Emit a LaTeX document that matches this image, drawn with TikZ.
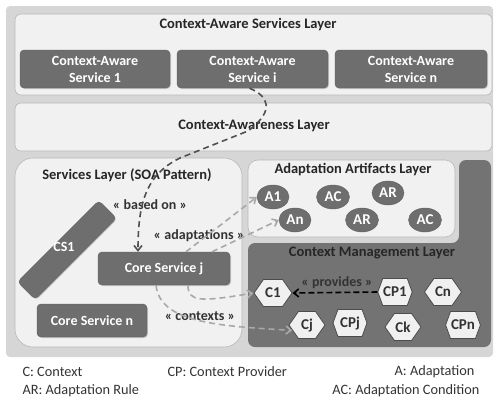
\documentclass[tikz,border=0pt]{standalone}
\usepackage{fontspec}
\setmainfont{Carlito}
\usetikzlibrary{shapes.geometric,shapes.symbols,arrows.meta,shadows}
\definecolor{bgc}{HTML}{D6D6D6}
\definecolor{layc}{HTML}{F1F1F1}
\definecolor{layb}{HTML}{B8B8B8}
\definecolor{dkc}{HTML}{6E6E6E}
\definecolor{dkb}{HTML}{5E5E5E}
\definecolor{cmc}{HTML}{737373}
\definecolor{hexc}{HTML}{F0F0F0}
\definecolor{mainln}{HTML}{505050}
\definecolor{adln}{HTML}{A8A8A8}
\tikzset{
  layer/.style={draw=layb, fill=layc, rounded corners=6, line width=0.6pt},
  ttl/.style={font=\fontsize{14.5}{16}\selectfont\bfseries, text=black!85},
  dkbox/.style={draw=dkb, fill=dkc, rounded corners=4, text=white,
     font=\fontsize{14}{17}\selectfont\bfseries, align=center, inner sep=1pt,
     drop shadow={shadow xshift=1pt, shadow yshift=-1pt, opacity=0.35}},
  elli/.style={ellipse, draw=dkb, fill=dkc, text=white, inner sep=0pt,
     font=\fontsize{15}{16}\selectfont\bfseries, minimum width=32, minimum height=24},
  hexa/.style={signal, signal to=west and east, signal pointer angle=110,
     draw=black!70, fill=hexc, line width=0.8pt, inner sep=0.5pt, text=black!80,
     font=\fontsize{15}{16}\selectfont\bfseries, minimum width=36, minimum height=27},
  lbl/.style={font=\fontsize{14}{16}\selectfont\bfseries, text=black!80},
  mainarr/.style={draw=mainln, line width=1.6pt, dash pattern=on 6pt off 4pt, -{Straight Barb[length=5pt,width=8pt]}},
  adarr/.style={draw=adln, line width=1.6pt, dash pattern=on 6pt off 4pt, -{Straight Barb[length=5pt,width=8pt]}},
  provarr/.style={draw=black, line width=1.6pt, dash pattern=on 6pt off 3pt, -{Straight Barb[length=5pt,width=8pt]}},
  leg/.style={font=\fontsize{14.3}{16}\selectfont, text=black!80}
}
\begin{document}
\begin{tikzpicture}[x=1pt,y=-1pt]
\useasboundingbox (0,0) rectangle (496,400);
\fill[bgc, rounded corners=4] (6,6) rectangle (493,357);

% Context-Aware Services Layer
\node[layer, minimum width=477, minimum height=81] (casl) at (253.5,54.5) {};
\node[ttl] (caslt) at (248,25) {Context-Aware Services Layer};
\node[dkbox, minimum width=150, minimum height=38] (cas1) at (95,69) {Context-Aware\\Service 1};
\node[dkbox, minimum width=151, minimum height=38] (casi) at (252.5,69) {Context-Aware\\Service i};
\node[dkbox, minimum width=152, minimum height=38] (casn) at (411,69) {Context-Aware\\Service n};

% Context-Awareness Layer
\node[layer, minimum width=477, minimum height=48] (cal) at (253.5,127) {};
\node[ttl] (calt) at (254,126) {Context-Awareness Layer};

% Services Layer
\node[layer, rounded corners=18, minimum width=227, minimum height=189] (sl) at (128.5,252.5) {};
\node[ttl] (slt) at (127,175) {Services Layer (SOA Pattern)};
\node[dkbox, rotate=45, minimum width=115, minimum height=25] (cs1) at (67,250) {};
\node[font=\fontsize{14}{16}\selectfont\bfseries, text=white] (cs1t) at (64,247) {CS1};
\node[dkbox, minimum width=132, minimum height=33] (cj) at (164,268.5) {Core Service j};
\node[dkbox, minimum width=110, minimum height=33] (cn) at (92,320.5) {Core Service n};

% Context Management Layer (L-shape)
\fill[cmc, rounded corners=7] (248,243) -- (459,243) -- (459,160) -- (491,160) -- (491,347) -- (248,347) -- cycle;
\node[ttl] (cmlt) at (372,253) {Context Management Layer};

% Adaptation Artifacts Layer
\node[layer, rounded corners=10, minimum width=207, minimum height=77] (aal) at (351.5,198.5) {};
\node[ttl] (aalt) at (353,170) {Adaptation Artifacts Layer};
\node[elli] (a1) at (273,197) {A1};
\node[elli, minimum width=33] (ac1) at (333,197) {AC};
\node[elli] (ar1) at (388,193) {AR};
\node[elli] (an) at (295,220) {An};
\node[elli, minimum width=33] (ar2) at (362,220) {AR};
\node[elli, minimum width=33] (ac2) at (425,220) {AC};

% hexagons
\node[hexa, minimum width=38] (c1) at (273,293) {C1};
\node[hexa, signal pointer angle=140, minimum width=32] (cp1) at (395,292) {CP1};
\node[hexa, minimum width=37] (cnh) at (443,292) {Cn};
\node[hexa, minimum width=36] (cjh) at (307,325) {Cj};
\node[hexa, signal pointer angle=140, minimum width=34] (cpj) at (350,323) {CPj};
\node[hexa, minimum width=36] (ck) at (403,327) {Ck};
\node[hexa, signal pointer angle=140, minimum width=34] (cpn) at (463,325) {CPn};

% labels
\node[lbl] (lbased) at (150,205) {« based on »};
\node[lbl] (ladapt) at (199,236) {« adaptations »};
\node[lbl] (lctx) at (200,316) {« contexts »};
\node[lbl] (lprov) at (337,283) {« provides »};

% connectors
\draw[mainarr] ([xshift=-3pt]casi.south) .. controls (268,96) and (276,110) .. (248,131)
   -- (180,158) .. controls (145,175) and (138,205) .. ([xshift=-26pt]cj.north);
\draw[adarr] ([xshift=22pt]cj.north) -- (a1.west);
\draw[adarr] ([xshift=48pt]cj.north) -- (an.west);
\draw[adarr] ([xshift=-8pt]cj.south) .. controls (160,322) and (215,326) .. (cjh.200);
\draw[adarr] ([xshift=24pt]cj.south) .. controls (188,302) and (200,302) .. (c1.west);
\draw[provarr] (cp1.west) -- (c1.east);

% legend
\node[leg, anchor=west] (l1) at (19,372) {C: Context};
\node[leg, anchor=west] (l2) at (164,372) {CP: Context Provider};
\node[leg, anchor=east] (l3) at (478,372) {A: Adaptation};
\node[leg, anchor=west] (l4) at (19,391) {AR: Adaptation Rule};
\node[leg, anchor=east] (l5) at (483,391) {AC: Adaptation Condition};
\end{tikzpicture}
\end{document}
